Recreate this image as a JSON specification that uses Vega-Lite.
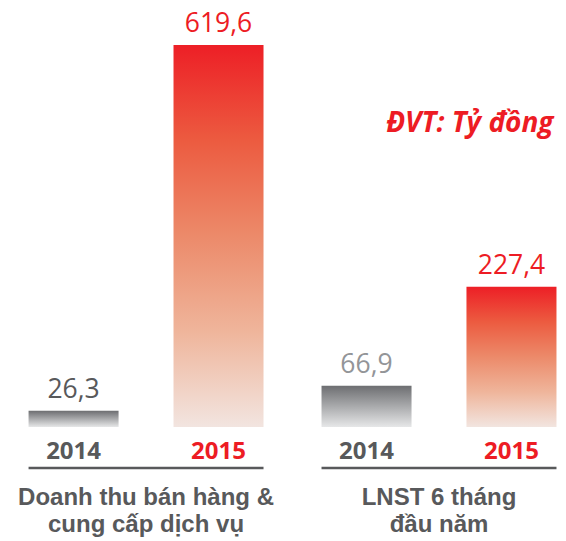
{
  "$schema": "https://vega.github.io/schema/vega-lite/v6.json",
  "width": 566,
  "height": 541,
  "autosize": {"type": "fit", "contains": "padding"},
  "padding": 0,
  "background": "white",
  "config": {
    "view": {"stroke": null},
    "locale": {"number": {"decimal": ",", "thousands": ".", "grouping": [3], "currency": ["", " đ"]}},
    "text": {"font": "Open Sans"}
  },
  "datasets": {
    "bars": [
      {"group": "DT", "year": "2014", "value": 26.3},
      {"group": "DT", "year": "2015", "value": 619.6},
      {"group": "LNST", "year": "2014", "value": 66.9},
      {"group": "LNST", "year": "2015", "value": 227.4}
    ],
    "groups": [
      {"group": "DT", "line1": "Doanh thu bán hàng &", "line2": "cung cấp dịch vụ"},
      {"group": "LNST", "line1": "LNST 6 tháng", "line2": "đầu năm"}
    ]
  },
  "layer": [
    {
      "data": {"name": "bars"},
      "transform": [{"filter": "datum.year == '2014'"}],
      "mark": {
        "type": "bar",
        "color": {
          "gradient": "linear", "x1": 0, "y1": 0, "x2": 0, "y2": 1,
          "stops": [
            {"offset": 0, "color": "#6d6e71"},
            {"offset": 1, "color": "#e6e7e8"}
          ]
        }
      },
      "encoding": {
        "x": {"field": "group", "type": "nominal", "axis": null, "sort": null,
              "scale": {"domain": ["DT", "LNST"], "paddingInner": 0.198, "paddingOuter": 0.065, "align": 0.75}},
        "xOffset": {"field": "year", "type": "nominal", "sort": ["2014", "2015"],
                    "scale": {"domain": ["2014", "2015"], "paddingInner": 0.379, "paddingOuter": 0}},
        "y": {"field": "value", "type": "quantitative", "axis": null,
              "scale": {"domain": [-184.9, 692.6], "nice": false, "zero": false}},
        "y2": {"datum": 0}
      }
    },
    {
      "data": {"name": "bars"},
      "transform": [{"filter": "datum.year == '2015'"}],
      "mark": {
        "type": "bar",
        "color": {
          "gradient": "linear", "x1": 0, "y1": 0, "x2": 0, "y2": 1,
          "stops": [
            {"offset": 0, "color": "#ed1f26"},
            {"offset": 0.25, "color": "#ec5b40"},
            {"offset": 0.5, "color": "#ec8a6a"},
            {"offset": 0.75, "color": "#efb59b"},
            {"offset": 1, "color": "#f2e5e0"}
          ]
        }
      },
      "encoding": {
        "x": {"field": "group", "type": "nominal", "sort": null},
        "xOffset": {"field": "year", "type": "nominal"},
        "y": {"field": "value", "type": "quantitative"},
        "y2": {"datum": 0}
      }
    },
    {
      "data": {"name": "bars"},
      "mark": {"type": "text", "fontSize": 26.5, "baseline": "alphabetic", "align": "center", "dy": -13, "letterSpacing": 0.5},
      "encoding": {
        "x": {"field": "group", "type": "nominal", "sort": null},
        "xOffset": {"field": "year", "type": "nominal"},
        "y": {"field": "value", "type": "quantitative"},
        "text": {"field": "value", "type": "quantitative", "format": ".1f"},
        "color": {
          "condition": [
            {"test": "datum.year == '2015'", "value": "#ed1c24"},
            {"test": "datum.group == 'LNST'", "value": "#939598"}
          ],
          "value": "#58595b"
        }
      }
    },
    {
      "data": {"name": "bars"},
      "mark": {"type": "text", "fontSize": 24, "fontWeight": "bold", "baseline": "alphabetic", "align": "center", "dy": 32},
      "encoding": {
        "x": {"field": "group", "type": "nominal", "sort": null},
        "xOffset": {"field": "year", "type": "nominal"},
        "y": {"datum": 0},
        "text": {"field": "year", "type": "nominal"},
        "color": {
          "condition": {"test": "datum.year == '2015'", "value": "#ed1c24"},
          "value": "#58595b"
        }
      }
    },
    {
      "data": {"name": "groups"},
      "mark": {"type": "rule", "strokeWidth": 2.5, "color": "#58595b"},
      "encoding": {
        "x": {"field": "group", "type": "nominal", "sort": null, "bandPosition": 0},
        "x2": {"field": "group", "bandPosition": 1},
        "y": {"datum": -66.5}
      }
    },
    {
      "data": {"name": "groups"},
      "mark": {"type": "text", "font": "Liberation Sans", "fontSize": 24, "fontWeight": "bold", "letterSpacing": 0.8,
               "baseline": "alphabetic", "align": "center", "dy": 78, "color": "#58595b"},
      "encoding": {
        "x": {"field": "group", "type": "nominal", "sort": null},
        "y": {"datum": 0},
        "text": {"field": "line1", "type": "nominal"}
      }
    },
    {
      "data": {"name": "groups"},
      "mark": {"type": "text", "font": "Liberation Sans", "fontSize": 24, "fontWeight": "bold", "letterSpacing": 0.8,
               "baseline": "alphabetic", "align": "center", "dy": 105, "color": "#58595b"},
      "encoding": {
        "x": {"field": "group", "type": "nominal", "sort": null},
        "y": {"datum": 0},
        "text": {"field": "line2", "type": "nominal"}
      }
    },
    {
      "data": {"values": [{"note": "ĐVT: Tỷ đồng"}]},
      "mark": {"type": "text", "fontSize": 28, "fontWeight": "bold", "fontStyle": "italic", "baseline": "alphabetic",
               "align": "right", "dx": -3, "letterSpacing": 0.5, "color": "#ed1c24"},
      "encoding": {
        "x": {"datum": "LNST", "type": "nominal", "bandPosition": 1},
        "y": {"datum": 478.5},
        "text": {"field": "note", "type": "nominal"}
      }
    }
  ]
}
